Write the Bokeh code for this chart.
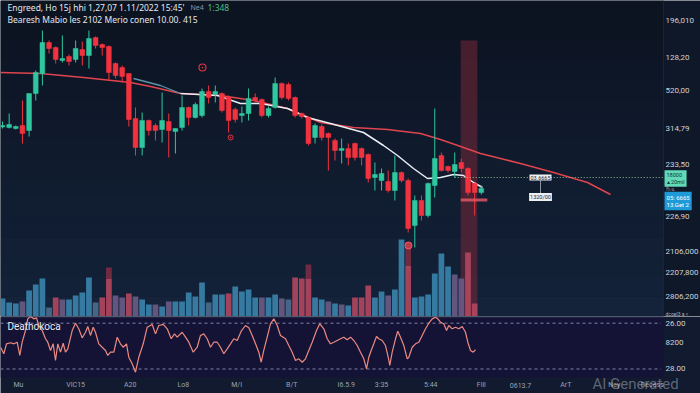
import numpy as np
from bokeh.plotting import figure
from bokeh.layouts import column
from bokeh.models import Range1d, Label, BoxAnnotation
from bokeh.core.properties import value
from bokeh.embed import file_html
from bokeh.resources import INLINE

# ---------------- data ----------------
opens = [190, 189, 188, 191, 186, 223, 243, 274, 269, 256,
         260, 257, 267, 261, 279, 272, 270, 253, 249, 243,
         198, 169, 196, 191, 187, 195, 185, 189, 209, 199,
         201, 225, 222, 223, 219, 207, 201, 203, 219, 217,
         201, 209, 233, 232, 219, 203, 199, 179, 190, 183,
         176, 166, 168, 173, 168, 162, 139, 136, 135, 126,
         144, 136, 91, 116, 101, 131, 161, 150, 145, 154,
         148, 133, 124]
highs = [195, 203, 191, 216, 223, 246, 286, 276, 270, 281,
         262, 276, 275, 286, 280, 273, 271, 254, 251, 243,
         209, 204, 197, 193, 224, 203, 188, 221, 210, 214,
         228, 231, 231, 224, 221, 209, 210, 228, 223, 218,
         210, 239, 234, 234, 220, 204, 200, 193, 192, 184,
         178, 178, 173, 174, 169, 163, 154, 148, 146, 161,
         145, 138, 121, 121, 134, 208, 164, 151, 164, 158,
         149, 134, 131]
lows = [188, 188, 187, 173, 180, 216, 231, 263, 253, 254,
        251, 254, 251, 248, 268, 261, 236, 238, 234, 190,
        161, 161, 181, 176, 174, 159, 163, 186, 191, 198,
        199, 213, 214, 204, 184, 194, 194, 196, 214, 199,
        199, 208, 217, 216, 199, 198, 171, 173, 176, 146,
        156, 153, 151, 156, 151, 134, 126, 126, 124, 116,
        134, 84, 69, 96, 99, 119, 145, 144, 139, 144,
        121, 101, 122]
closes = [191, 192, 190, 183, 223, 244, 274, 268, 257, 258,
          255, 268, 261, 278, 271, 269, 244, 241, 240, 197,
          169, 196, 186, 186, 196, 186, 188, 209, 199, 212,
          225, 219, 225, 206, 196, 197, 203, 218, 216, 201,
          208, 233, 219, 218, 201, 200, 173, 191, 179, 179,
          166, 168, 159, 159, 159, 138, 142, 143, 126, 144,
          136, 88, 116, 101, 133, 158, 146, 146, 152, 148,
          124, 124, 128]

volume = [18, 14, 13, 15, 26, 32, 38, 9, 19, 17,
          17, 21, 24, 39, 14, 19, 38, 21, 19, 23,
          20, 17, 12, 12, 10, 15, 15, 15, 24, 20,
          34, 14, 22, 22, 23, 30, 25, 27, 19, 19,
          19, 22, 18, 17, 39, 38, 38, 19, 17, 15,
          13, 12, 11, 19, 19, 31, 19, 25, 21, 27,
          77, 51, 19, 20, 22, 43, 63, 50, 42, 38,
          64, 13]
volume_cap = [0] * 72
volume_cap[16], volume_cap[46], volume_cap[61] = 11, 14, 23
volume_kind = list("bbbpbbbgrp" "bbbbgrrppr" "pbbpbpbbbb" "bgbbrbbbbp"
                   "bbpgrrrbbp" "bpbrrrbbpb" "brbbbbbbpp" "rr")

ma_slow_t = [-0.30, 5.71, 12.18, 19.25, 22.26, 26.77, 32.78, 37.74, 42.86, 47.82,
             52.78, 57.89, 62.86, 65.86, 69.32, 71.88, 74.89, 77.89, 82.86, 87.97, 91.43]
ma_slow = [244, 243, 239, 234, 230, 223, 221, 216, 208, 194,
           189, 187, 183, 177, 169, 163, 158, 153, 144, 134, 122]
ma_fast_t = [19.70, 23.76, 26.77, 32.33, 35.79, 38.80, 42.86, 45.86, 49.32, 54.29,
             57.29, 59.40, 61.80, 63.91, 65.86, 67.82, 69.32, 70.83, 72.18]
ma_fast = [238, 231, 223, 221, 213, 213, 208, 199, 193, 184,
           171, 161, 148, 138, 139, 142, 141, 134, 129]

rsi_t = [-0.30, 0.20, 0.60, 1.20, 1.70, 2.21, 2.60, 2.96, 3.46, 3.80,
         4.21, 4.71, 5.11, 5.46, 5.97, 6.47, 6.81, 7.22, 7.62, 7.97,
         8.32, 8.72, 9.13, 9.47, 9.82, 10.48, 10.98, 11.47, 11.98, 12.48,
         12.83, 13.23, 13.64, 13.98, 14.48, 14.99, 15.49, 15.83, 16.24, 16.74,
         17.25, 17.74, 18.15, 18.65, 18.99, 19.50, 20.00, 20.50, 21.16, 21.76,
         22.51, 23.01, 23.50, 24.17, 24.77, 25.37, 25.86, 26.27, 27.02, 27.52,
         28.02, 28.68, 29.28, 29.77, 30.27, 30.78, 31.28, 31.77, 32.29, 32.78,
         33.28, 33.79, 34.29, 34.78, 35.29, 35.89, 36.54, 37.04, 37.55, 38.05,
         38.54, 38.90, 39.29, 39.80, 40.30, 40.80, 41.31, 41.80, 42.56, 43.05,
         43.56, 44.06, 44.56, 45.07, 45.56, 46.06, 46.57, 47.22, 47.71, 48.32,
         48.83, 49.32, 49.82,
         50.83, 51.32, 51.83, 52.33, 52.83, 53.34, 53.83, 54.33, 54.74, 55.08,
         55.44, 55.83, 56.24, 56.59, 57.10, 57.59, 58.00, 58.24, 58.60, 59.10,
         59.44, 59.85, 60.35, 60.86, 61.10, 61.61, 62.11, 62.60, 63.11, 63.61,
         64.11, 64.62, 65.11, 65.46, 65.86, 66.36, 66.77, 67.11, 67.62, 68.12,
         68.62, 69.13, 69.62, 69.97, 70.38, 70.78, 71.13]
rsi = [49.0, 43.3, 52.0, 52.9, 52.0, 53.4, 41.8, 53.4, 63.6, 73.8,
       75.9, 73.8, 74.7, 68.0, 63.6, 56.4, 53.4, 46.2, 52.0, 37.4,
       52.0, 44.7, 52.5, 44.7, 47.6, 63.6, 70.0, 65.1, 57.2, 62.1,
       67.1, 59.3, 66.5, 62.1, 52.0, 49.0, 46.2, 41.8, 44.7, 44.7,
       57.8, 52.0, 49.0, 52.0, 40.3, 34.5, 27.2, 40.3, 52.0, 66.5,
       68.9, 60.7, 68.0, 68.9, 65.1, 56.4, 60.7, 57.8, 62.1, 57.8,
       53.4, 44.7, 49.0, 59.3, 60.7, 56.4, 49.0, 53.4, 53.4, 49.0,
       43.3, 47.6, 52.0, 56.4, 54.9, 63.0, 68.0, 66.0, 59.3, 52.0,
       44.7, 35.9, 46.2, 57.8, 69.5, 73.8, 68.0, 59.3, 56.4, 50.5,
       44.7, 37.4, 38.9, 35.9, 38.9, 46.2, 53.4, 63.6, 69.5, 65.1,
       56.4, 52.0, 53.4,
       56.4, 57.8, 55.5, 57.8, 54.9, 50.5, 44.7, 38.9, 30.2, 40.3,
       46.2, 52.0, 58.4, 56.4, 54.9, 50.5, 40.3, 33.1, 44.7, 56.4,
       63.0, 57.8, 50.5, 38.9, 40.3, 49.0, 52.0, 53.4, 59.3, 65.1,
       70.0, 73.8, 75.2, 73.8, 70.9, 69.5, 63.6, 68.0, 65.1, 66.5,
       65.1, 67.1, 62.1, 53.4, 46.2, 44.7, 46.8]

signal_t = [30.07, 34.3]
signal_p = [249, 179]
vol_signal_t = [61.05]
vol_signal_v = [71]

price_ticks = [296, 259, 226, 188, 152, 100, 65, 44, 20]
price_labels = ["196,010", "128,20", "520,00", "314,79", "233,50",
                "226,90", "2106,000", "2207,800", "2806,200"]
rsi_ticks = [70, 53, 30]
rsi_labels = ["26.00", "8200", "28.00"]
time_ticks = [2.4, 11.0, 19.2, 27.2, 35.2, 43.5, 51.7, 57.0, 64.4, 72.0, 77.9, 84.7, 92.0, 97.7]
time_labels = ["Mu", "VIC15", "A20", "Lo8", "M/I", "B/T", "I6.5.9", "3:35", "5:44",
               "Fill", "0613.7", "ArT", "Ney", "Decess"]

cross_price = 139
band_t = (68.9, 71.4)
support_t = (68.9, 72.9)
support_p = (115, 118)

# ---------------- styling ----------------
STRIP = "#0f1829"
RSI_BG = "#141336"
BOTTOM = "#111a2f"
GREEN = "#2fc79f"
RED = "#f2333f"
VOL_COL = {"b": "#3a84ad", "r": "#b3475f", "p": "#6a5b86", "g": "#4d6d8d"}
FONT = "Roboto"
LABEL_COL = "#cdd2da"

X_LO, X_PLOT_END, X_HI = -0.3, 99.4, 104.96     # plot area ends where the price scale strip starts
AXIS_X = 99.7                                  # text column of the price scale strip
RSI_LO, RSI_PANEL_LO, RSI_HI = 8.6, 22.6, 75.85
XLAB_Y = 15.6

o = np.array(opens, float)
c = np.array(closes, float)
t = np.arange(len(o))
up = c >= o
cols = [GREEN if u else RED for u in up]
body_top = np.maximum(o, c)
body_bot = np.minimum(o, c)
body_bot = np.where(body_top - body_bot < 1.5, body_top - 1.5, body_bot)

XR = Range1d(X_LO, X_HI)

p = figure(width=700, height=316, x_range=XR, y_range=Range1d(0, 316),
           output_backend="svg", toolbar_location=None,
           x_axis_location=None, y_axis_location=None,
           min_border_left=0, min_border_right=0, min_border_top=0, min_border_bottom=0,
           background_fill_color=STRIP, border_fill_color=STRIP, outline_line_color=None)
p.grid.visible = False
p.extra_y_ranges = {"vol": Range1d(0, 316)}

# vertical background gradient of the plot area (dark top -> bluer bottom)
top_rgb = np.array([12, 19, 33])
bot_rgb = np.array([20, 34, 58])
n_steps = 16
edges = np.linspace(316, 0, n_steps + 1)
for k in range(n_steps):
    f = k / (n_steps - 1)
    rgb = (top_rgb * (1 - f) + bot_rgb * f).astype(int)
    p.add_layout(BoxAnnotation(left=X_LO, right=X_PLOT_END, top=edges[k], bottom=edges[k + 1],
                               fill_color="#%02x%02x%02x" % tuple(rgb), fill_alpha=1.0,
                               line_color=None, level="underlay"))

# band behind everything
p.quad(left=band_t[0], right=band_t[1], bottom=0, top=276,
       fill_color="#8e2a3a", fill_alpha=0.45, line_color=None)

# volume
vt = np.arange(len(volume))
vcols = [VOL_COL[k] for k in volume_kind]
p.vbar(x=vt, width=0.86, bottom=0, top=volume, y_range_name="vol",
       fill_color=vcols, line_color=None, fill_alpha=0.9)
vol = np.array(volume, float)
cap = np.array(volume_cap, float)
p.vbar(x=vt, width=0.86, bottom=vol, top=vol + cap, y_range_name="vol",
       fill_color="#7a2c44", line_color=None, fill_alpha=np.where(cap > 0, 0.9, 0.0))
p.scatter(vol_signal_t, vol_signal_v, y_range_name="vol", marker="circle", size=7,
          fill_color="#c0394a", line_color="#f05a66", line_width=1)

# moving averages
p.line(ma_slow_t, ma_slow, line_color="#e0444e", line_width=1.5)
p.line(ma_fast_t[:3], ma_fast[:3], line_color="#5f93a6", line_width=1.3)
p.line(ma_fast_t[2:], ma_fast[2:], line_color="#e9eef4", line_width=1.5)

# candles
p.segment(t, highs, t, lows, line_color=cols, line_width=1)
p.vbar(x=t, width=0.72, top=body_top, bottom=body_bot, fill_color=cols, line_color=cols, line_width=0.5)

# signals
p.scatter(signal_t[:1], signal_p[:1], marker="circle", size=7, fill_color=None,
          line_color="#e5323f", line_width=1.2)
p.scatter(signal_t, signal_p, marker="dot", size=7, line_color="#e5323f")
p.scatter(signal_t[1:], signal_p[1:], marker="circle", size=5, fill_color=None,
          line_color="#e5323f", line_width=1)

# support marker and cross line
p.quad(left=support_t[0], right=support_t[1], bottom=support_p[0], top=support_p[1],
       fill_color="#e05565", fill_alpha=0.85, line_color=None)
p.segment(68.0, cross_price, X_PLOT_END, cross_price, line_color="#8fbf8f", line_width=1,
          line_dash="1 2")
p.segment(80.9, 122, 80.9, 136, line_color="#8a93a3", line_width=1)

p.add_layout(Label(x=80.9, y=cross_price, text="03.6665", text_font=FONT, text_font_size="5.5px",
                   text_color="#1f2630", text_align="center", text_baseline="middle",
                   background_fill_color="#eef1f4", padding=1))
p.add_layout(Label(x=80.9, y=119.5, text="1320/00", text_font=FONT, text_font_size="5.5px",
                   text_color="#1f2630", text_align="center", text_baseline="middle",
                   background_fill_color="#eef1f4", padding=1))

# price scale strip
p.segment(X_PLOT_END, 0, X_PLOT_END, 316, line_color="#1a2538", line_width=1)
p.text(x=[AXIS_X] * len(price_ticks), y=price_ticks, text=price_labels,
       text_font=value(FONT), text_font_size="8px", text_color=LABEL_COL,
       text_baseline="middle", text_align="left")
p.add_layout(Label(x=AXIS_X - 0.15, y=138, text="18000\n\u25b4 20mil", text_font=FONT,
                   text_font_size="5.5px", text_line_height=1.1, text_color="#0d3a30",
                   text_baseline="middle", background_fill_color="#62d9b8", padding=2))
p.add_layout(Label(x=AXIS_X - 0.15, y=115.5, text="05: 6665\n13.Get 2", text_font=FONT,
                   text_font_size="6px", text_line_height=1.1, text_color="#ffffff",
                   text_baseline="middle", background_fill_color="#1f9ad8", padding=2))
p.add_layout(Label(x=AXIS_X, y=127.5, text="\u0e01\u0e47\u0e40\u0e09", text_font="Noto Sans",
                   text_font_size="5px", text_color="#8a93a3", text_baseline="middle"))
p.add_layout(Label(x=AXIS_X, y=3, text="dcoel3 a <", text_font=FONT, text_font_size="5px",
                   text_color="#aab1bd", text_baseline="middle"))

# titles
p.add_layout(Label(x=7, y=309, x_units="screen", y_units="screen",
                   text="Engreed, Ho 15j hhi 1,27,07 1.11/2022 15:45'", text_font="Noto Sans",
                   text_font_size="8.5px", text_color="#e6e9ee", text_baseline="middle"))
p.add_layout(Label(x=190, y=309, x_units="screen", y_units="screen",
                   text="Ne4", text_font="Noto Sans", text_font_size="7px",
                   text_color="#8f98a6", text_baseline="middle"))
p.add_layout(Label(x=207, y=309, x_units="screen", y_units="screen",
                   text="1:348", text_font="Noto Sans", text_font_size="8.5px",
                   text_color="#4fbf85", text_baseline="middle"))
p.add_layout(Label(x=7, y=297, x_units="screen", y_units="screen",
                   text="Bearesh Mabio les 2102 Merio conen 10.00. 415", text_font="Noto Sans",
                   text_font_size="8.5px", text_color="#e6e9ee", text_baseline="middle"))

# ---------------- RSI panel ----------------
r = figure(width=700, height=77, x_range=XR, y_range=Range1d(RSI_LO, RSI_HI),
           output_backend="svg", toolbar_location=None,
           x_axis_location=None, y_axis_location=None,
           min_border_left=0, min_border_right=0, min_border_top=0, min_border_bottom=0,
           background_fill_color=BOTTOM, border_fill_color=BOTTOM, outline_line_color=None)
r.grid.visible = False
r.add_layout(BoxAnnotation(left=X_LO, right=X_PLOT_END, bottom=RSI_PANEL_LO, top=RSI_HI,
                           fill_color=RSI_BG, fill_alpha=1.0, line_color=None, level="underlay"))
r.segment(X_LO, RSI_HI - 0.4, X_PLOT_END, RSI_HI - 0.4, line_color="#2a3552", line_width=1.2)
r.segment([X_LO, X_LO], [70, 30], [X_PLOT_END - 0.4] * 2, [70, 30], line_color="#7c84a6",
          line_dash="3 3", line_width=1)
r.line(rsi_t, rsi, line_color="#ec8a80", line_width=1.2)

r.text(x=[AXIS_X] * len(rsi_ticks), y=rsi_ticks, text=rsi_labels,
       text_font=value(FONT), text_font_size="8px", text_color=LABEL_COL,
       text_baseline="middle", text_align="left")
r.text(x=time_ticks, y=[XLAB_Y] * len(time_ticks), text=time_labels,
       text_font=value(FONT), text_font_size="7px", text_color="#9aa3b3",
       text_baseline="middle", text_align="center")

r.add_layout(Label(x=7, y=67.5, x_units="screen", y_units="screen",
                   text="Deathokoca", text_font=FONT, text_font_size="10px",
                   text_color="#e8ecf2", text_baseline="middle"))
r.add_layout(Label(x=592, y=10, x_units="screen", y_units="screen",
                   text="AI Generated", text_font=FONT, text_font_size="15px",
                   text_color="#c0c6d0", text_alpha=0.45, text_baseline="middle"))

layout = column(p, r, spacing=0)
open("out.html", "w").write(file_html(layout, INLINE))
